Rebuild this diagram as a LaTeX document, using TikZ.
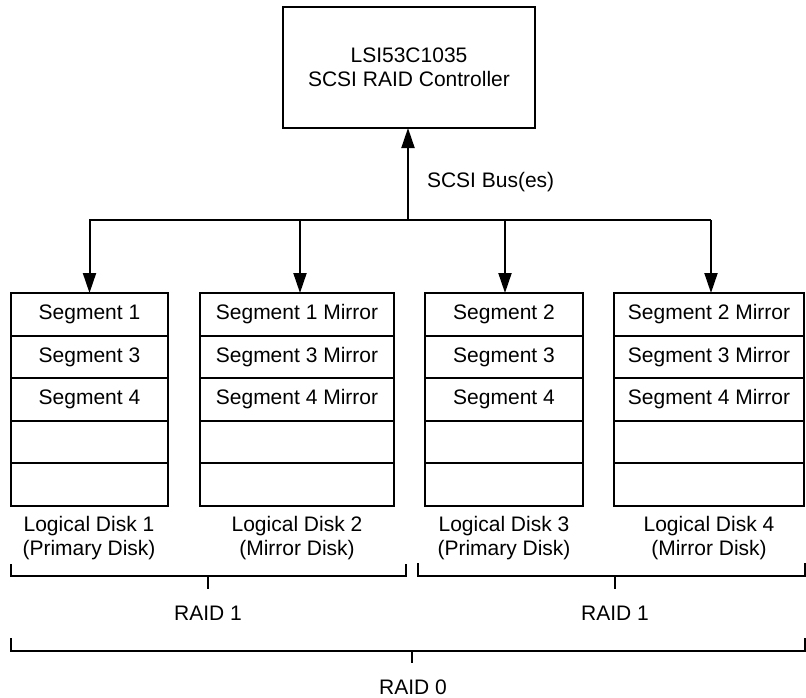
\documentclass[tikz,border=0pt]{standalone}
\usepackage{fontspec}
\setmainfont{Liberation Sans}
\usetikzlibrary{arrows.meta}
\begin{document}
\begin{tikzpicture}[x=1pt,y=-1pt,
  every node/.style={font=\fontsize{21}{24}\selectfont, inner sep=0pt, outer sep=0pt},
  box/.style={draw, line width=2pt},
  row/.style={draw, line width=2pt, minimum height=42.6pt},
  arr/.style={line width=2pt, -{Triangle[length=20pt,width=13pt]}},
  bus/.style={line width=2pt},
  brace/.style={line width=1.3pt},
  lbl/.style={align=center}]
\useasboundingbox (0,0) rectangle (806,697);

% controller
\node[box, minimum width=252pt, minimum height=121pt, align=center] (ctrl) at (409,67.5) {LSI53C1035\\SCSI RAID Controller};

% disks
\foreach \n/\cx/\w/\ta/\tb/\tc in {1/89.5/157/Segment 1/Segment 3/Segment 4,
                                   2/297/194/Segment 1 Mirror/Segment 3 Mirror/Segment 4 Mirror,
                                   3/504/158/Segment 2/Segment 3/Segment 4,
                                   4/709/190/Segment 2 Mirror/Segment 3 Mirror/Segment 4 Mirror}{
  \node[row, minimum width=\w pt] (d\n a) at (\cx,314.3) {\ta};
  \node[row, minimum width=\w pt] (d\n b) at (\cx,356.9) {\tb};
  \node[row, minimum width=\w pt] (d\n c) at (\cx,399.5) {\tc};
  \node[row, minimum width=\w pt] (d\n d) at (\cx,442.1) {};
  \node[row, minimum width=\w pt] (d\n e) at (\cx,484.7) {};
}

% disk labels
\node[lbl] (l1) at (89,538) {Logical Disk 1\\(Primary Disk)};
\node[lbl] (l2) at (297,538) {Logical Disk 2\\(Mirror Disk)};
\node[lbl] (l3) at (504,538) {Logical Disk 3\\(Primary Disk)};
\node[lbl] (l4) at (709,538) {Logical Disk 4\\(Mirror Disk)};

% bus
\coordinate (bus) at (408,220);
\draw[bus] ([xshift=-0.5pt]d1a.north |- bus) -- ([xshift=2pt]d4a.north |- bus);
\draw[arr] (bus) -- (ctrl.south -| bus);
\draw[arr] (d1a.north |- bus) -- (d1a.north);
\draw[arr] ([xshift=3pt]d2a.north |- bus) -- ([xshift=3pt]d2a.north);
\draw[arr] ([xshift=1pt]d3a.north |- bus) -- ([xshift=1pt]d3a.north);
\draw[arr] ([xshift=2pt]d4a.north |- bus) -- ([xshift=2pt]d4a.north);
\node[anchor=west] (busl) at (427,182) {SCSI Bus(es)};

% RAID 1 brackets
\coordinate (b1a) at (11,564);
\coordinate (b1b) at (406,564);
\coordinate (b1t) at (208,576);
\coordinate (b2a) at (418,563);
\coordinate (b2b) at (805,563);
\coordinate (b2t) at (615,576);
\draw[brace] (b1a) -- (b1a |- b1t) -- (b1b |- b1t) -- (b1b);
\draw[brace] (b1t) -- ++(0,13);
\draw[brace] (b2a) -- (b2a |- b2t) -- (b2b |- b2t) -- (b2b);
\draw[brace] (b2t) -- ++(0,13);
\node (r1a) at (208,613) {RAID 1};
\node (r1b) at (615,613) {RAID 1};

% RAID 0 bracket
\coordinate (c0a) at (11,638);
\coordinate (c0b) at (805,638);
\coordinate (c0t) at (412,651);
\draw[brace] (c0a) -- (c0a |- c0t) -- (c0b |- c0t) -- (c0b);
\draw[brace] (c0t) -- ++(0,12);
\node (r0) at (413,687) {RAID 0};
\end{tikzpicture}
\end{document}
